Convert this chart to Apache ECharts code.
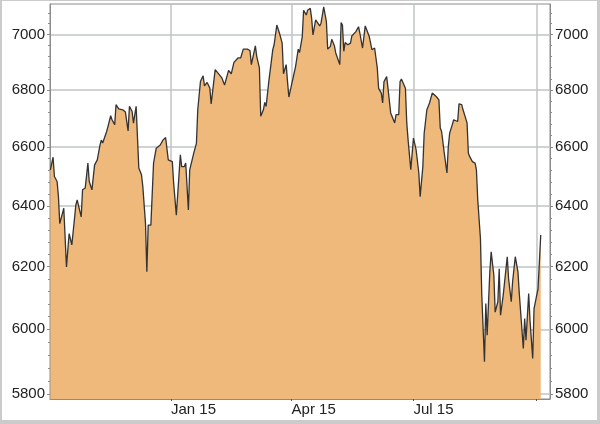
<!DOCTYPE html>
<html>
<head>
<meta charset="utf-8">
<script src="https://cdn.jsdelivr.net/npm/echarts@6/dist/echarts.min.js"></script>
<style>
html,body{margin:0;padding:0;width:600px;height:424px;background:#cbcbcb;overflow:hidden;}
#c{position:absolute;left:2px;top:1px;width:595px;height:419px;background:#fff;}
</style>
</head>
<body>
<div id="c"></div>
<script>
const dates = [
'2014-10-03','2014-10-05','2014-10-06','2014-10-08','2014-10-09','2014-10-10','2014-10-13','2014-10-15','2014-10-16','2014-10-17',
'2014-10-19','2014-10-21','2014-10-22','2014-10-23','2014-10-26','2014-10-27','2014-10-29','2014-10-31','2014-11-01','2014-11-03',
'2014-11-05','2014-11-07','2014-11-09','2014-11-10','2014-11-11','2014-11-14','2014-11-15','2014-11-17','2014-11-18','2014-11-20',
'2014-11-21','2014-11-23','2014-11-26','2014-11-28','2014-11-30','2014-12-01','2014-12-03','2014-12-04','2014-12-06','2014-12-08',
'2014-12-10','2014-12-11','2014-12-13','2014-12-14','2014-12-15','2014-12-17','2014-12-19','2014-12-21','2014-12-24','2014-12-26',
'2014-12-28','2014-12-30','2014-12-31','2015-01-02','2015-01-03','2015-01-05','2015-01-08','2015-01-09','2015-01-11','2015-01-12',
'2015-01-14','2015-01-15','2015-01-18','2015-01-20','2015-01-21','2015-01-23','2015-01-25','2015-01-26','2015-01-28','2015-01-30',
'2015-01-31','2015-02-03','2015-02-04','2015-02-08','2015-02-10','2015-02-13','2015-02-15','2015-02-17','2015-02-18','2015-02-20',
'2015-02-22','2015-02-24','2015-02-25','2015-02-27','2015-03-01','2015-03-02','2015-03-05','2015-03-06','2015-03-08','2015-03-09',
'2015-03-11','2015-03-12','2015-03-13','2015-03-15','2015-03-16','2015-03-18','2015-03-19','2015-03-21','2015-03-22','2015-03-23',
'2015-03-25','2015-03-26','2015-03-28','2015-03-29','2015-03-30','2015-04-01','2015-04-04','2015-04-06','2015-04-07','2015-04-09',
'2015-04-10','2015-04-12','2015-04-13','2015-04-15','2015-04-16','2015-04-17','2015-04-19','2015-04-20','2015-04-22','2015-04-23',
'2015-04-24','2015-04-25','2015-04-27','2015-04-28','2015-04-30','2015-05-01','2015-05-03','2015-05-04','2015-05-05','2015-05-07',
'2015-05-08','2015-05-09','2015-05-10','2015-05-11','2015-05-13','2015-05-15','2015-05-16','2015-05-19','2015-05-21','2015-05-22',
'2015-05-24','2015-05-26','2015-05-27','2015-05-29','2015-05-31','2015-06-02','2015-06-04','2015-06-05','2015-06-07','2015-06-08',
'2015-06-09','2015-06-11','2015-06-12','2015-06-14','2015-06-15','2015-06-17','2015-06-18','2015-06-20','2015-06-21','2015-06-22',
'2015-06-23','2015-06-25','2015-06-26','2015-06-27','2015-06-29','2015-07-01','2015-07-03','2015-07-05','2015-07-06','2015-07-08',
'2015-07-09','2015-07-11','2015-07-13','2015-07-14','2015-07-15','2015-07-16','2015-07-18','2015-07-19','2015-07-20','2015-07-21',
'2015-07-22','2015-07-24','2015-07-26','2015-07-27','2015-07-28','2015-07-30','2015-07-31','2015-08-01','2015-08-03','2015-08-04',
'2015-08-06','2015-08-07','2015-08-08','2015-08-10','2015-08-11','2015-08-12','2015-08-14','2015-08-16','2015-08-17','2015-08-18',
'2015-08-20','2015-08-21','2015-08-23','2015-08-24','2015-08-25','2015-08-27','2015-08-28','2015-08-30','2015-08-31','2015-09-02',
'2015-09-03','2015-09-04','2015-09-06','2015-09-09','2015-09-10','2015-09-12','2015-09-13','2015-09-15','2015-09-17','2015-09-18',
'2015-09-19','2015-09-21','2015-09-22','2015-09-23','2015-09-25','2015-09-26','2015-09-28','2015-09-29','2015-09-30','2015-10-02',
'2015-10-04'
];
const values = [
6522,6565,6499,6482,6432,6341,6392,6199,6193,6308,
6271,6358,6403,6420,6363,6454,6460,6545,6482,6454,
6539,6556,6607,6624,6614,6654,6672,6709,6695,6678,
6748,6733,6730,6722,6656,6742,6724,6683,6742,6528,
6505,6465,6341,6183,6336,6336,6545,6596,6607,6624,
6633,6556,6562,6550,6477,6369,6573,6533,6533,6545,
6386,6522,6579,6613,6730,6830,6851,6815,6827,6807,
6751,6873,6866,6843,6818,6870,6858,6899,6897,6915,
6915,6947,6942,6947,6942,6891,6959,6921,6879,6707,
6730,6756,6742,6829,6836,6945,6963,7035,7032,7005,
6969,6858,6891,6830,6775,6818,6884,6947,6935,6993,
7090,7072,7090,7097,7060,6999,7054,7060,7032,7042,
7072,7102,7048,6947,6957,6983,6959,6933,6939,6891,
7044,7035,6939,6971,6963,6969,6995,7011,7029,7005,
6951,7032,7035,6993,6945,6951,6879,6806,6789,6754,
6830,6848,6806,6719,6713,6684,6713,6713,6830,6839,
6846,6806,6684,6625,6522,6631,6590,6511,6431,6533,
6648,6730,6754,6759,6789,6794,6777,6783,6765,6666,
6654,6579,6511,6601,6648,6678,6695,6689,6689,6751,
6748,6730,6736,6684,6579,6567,6550,6545,6522,6420,
6292,6108,5899,6081,5981,6183,6248,6172,6054,6087,
6193,6044,6108,6232,6161,6087,6151,6232,6183,6113,
6113,5940,6034,5966,6113,6028,5909,6065,6071,6129,
6303
];
const xTickDates = ['2015-01-01','2015-04-01','2015-07-01','2015-10-01'];
const xTickLabels = ['Jan 15','Apr 15','Jul 15'];
const yTicks = [5800,6000,6200,6400,6600,6800,7000];
const yMinorStep = 40;
const yMin = 5785, yMax = 7113;
const xMin = '2014-10-02T17:00:00Z', xMax = '2015-10-10T22:00:00Z';

const ts = s => Date.parse(s.length === 10 ? s + 'T00:00:00Z' : s);
const seriesData = dates.map((d, i) => [ts(d), values[i]]);
const xTickVals = xTickDates.map(ts);
const xLabelVals = xTickVals.slice(0, xTickLabels.length);
const yMinor = [];
for (let v = yTicks[0]; v <= yMax; v += yMinorStep) yMinor.push(v);

const FONT = 'Liberation Sans, Arial, sans-serif';
const AXIS_C = '#8c8c8c';
const GRID_C = '#c0c4c4';

function yAxisMajor(pos, showSplit) {
  return {
    type: 'log', logBase: 10, position: pos, min: yMin, max: yMax,
    axisLine: {show: true, lineStyle: {color: AXIS_C, width: 1}},
    axisTick: {show: true, length: 3, customValues: yTicks, lineStyle: {color: AXIS_C, width: 1}},
    axisLabel: {show: true, customValues: yTicks, margin: 5, color: '#222', fontSize: 15, fontFamily: FONT,
      formatter: v => String(Math.round(v))},
    splitLine: {show: showSplit, lineStyle: {color: GRID_C, width: 1.5}},
    minorTick: {show: false}, minorSplitLine: {show: false}
  };
}
function yAxisMinor(pos) {
  return {
    type: 'log', logBase: 10, position: pos, min: yMin, max: yMax,
    axisLine: {show: false},
    axisTick: {show: true, length: 2, customValues: yMinor, lineStyle: {color: AXIS_C, width: 1}},
    axisLabel: {show: false},
    splitLine: {show: false}
  };
}

const chart = echarts.init(document.getElementById('c'), null, {renderer: 'canvas'});
chart.setOption({
  animation: false,
  backgroundColor: '#fff',
  grid: {left: 48, right: 47, top: 3, bottom: 21, show: true, borderColor: AXIS_C, borderWidth: 1,
         containLabel: false, outerBoundsMode: 'none'},
  xAxis: {
    type: 'value', min: ts(xMin), max: ts(xMax),
    axisLine: {show: true, lineStyle: {color: AXIS_C, width: 1}},
    axisTick: {show: true, length: 2, customValues: xTickVals, lineStyle: {color: '#555', width: 1}},
    axisLabel: {show: true, customValues: xLabelVals, margin: 3, align: 'left', color: '#222', fontSize: 15, fontFamily: FONT,
      formatter: v => { const i = xLabelVals.indexOf(v); return i >= 0 ? xTickLabels[i] : ''; }},
    splitLine: {show: true, lineStyle: {color: GRID_C, width: 1.5}}
  },
  yAxis: [yAxisMajor('left', true), yAxisMajor('right', false), yAxisMinor('left'), yAxisMinor('right')],
  series: [{
    type: 'line', data: seriesData, showSymbol: false, symbol: 'none',
    lineStyle: {color: '#333', width: 1.3},
    areaStyle: {color: '#eeb97a', opacity: 1, origin: 'start'},
    z: 3
  }]
});
</script>
</body>
</html>
